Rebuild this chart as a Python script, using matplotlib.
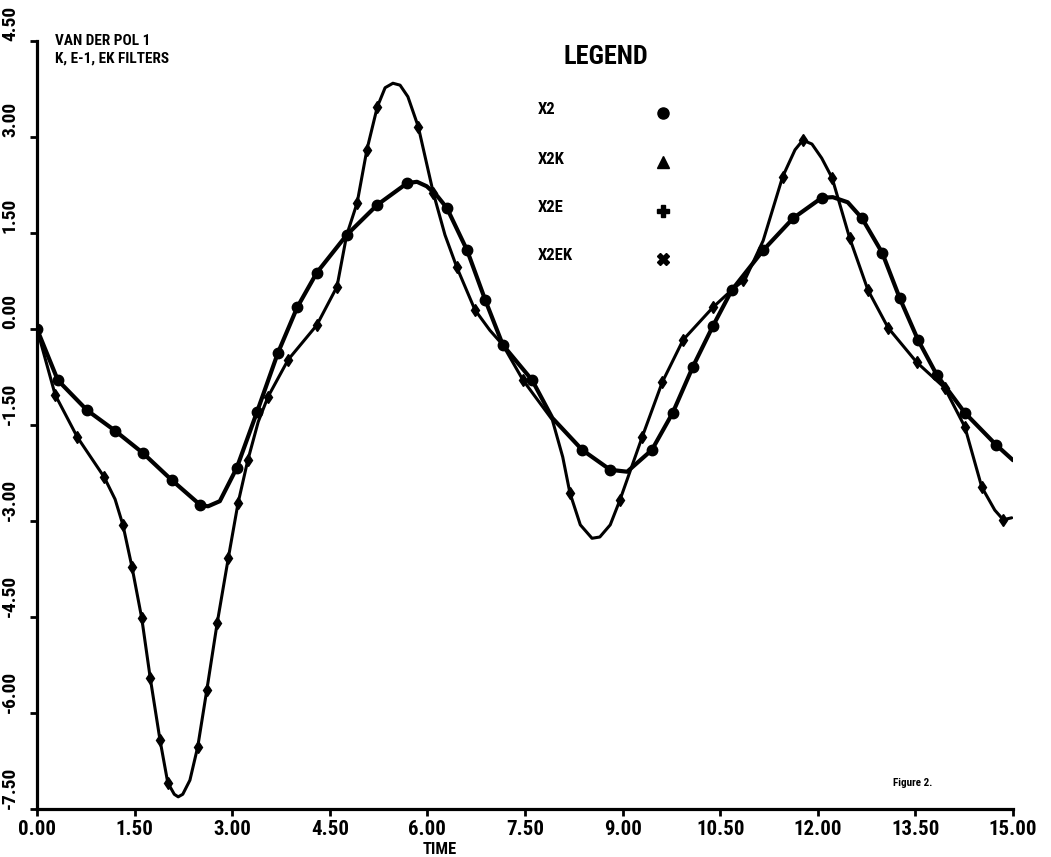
import matplotlib
matplotlib.use("Agg")
import matplotlib.pyplot as plt
from matplotlib import font_manager

## Data
# X2 trace (circles), also carries X2E
x2_t = [0.00, 0.32, 0.77, 1.20, 1.63, 2.07, 2.51, 2.63, 2.81, 3.07, 3.38, 3.70,
        4.00, 4.30, 4.76, 5.23, 5.69, 5.84, 5.99, 6.15, 6.30, 6.61, 6.89, 7.16,
        7.61, 7.92, 8.38, 8.81, 9.07, 9.45, 9.77, 10.08, 10.39, 10.68, 11.16,
        11.62, 12.06, 12.23, 12.46, 12.68, 12.99, 13.26, 13.54, 13.83, 14.26,
        14.74, 15.00]
x2_y = [0.00, -0.80, -1.27, -1.59, -1.94, -2.36, -2.75, -2.77, -2.69, -2.17,
        -1.30, -0.38, 0.34, 0.88, 1.47, 1.94, 2.28, 2.30, 2.23, 2.08, 1.89,
        1.23, 0.45, -0.25, -0.80, -1.39, -1.89, -2.20, -2.23, -1.89, -1.31,
        -0.59, 0.05, 0.61, 1.23, 1.73, 2.05, 2.06, 1.98, 1.73, 1.19, 0.48,
        -0.17, -0.72, -1.31, -1.81, -2.05]
x2_mark_t = [0.00, 0.32, 0.77, 1.20, 1.63, 2.07, 2.51, 3.07, 3.38, 3.70, 4.00,
             4.30, 4.76, 5.23, 5.69, 6.30, 6.61, 6.89, 7.16, 7.61, 8.38, 8.81,
             9.45, 9.77, 10.08, 10.39, 10.68, 11.16, 11.62, 12.06, 12.68, 12.99,
             13.26, 13.54, 13.83, 14.26, 14.74]
x2_mark_y = [0.00, -0.80, -1.27, -1.59, -1.94, -2.36, -2.75, -2.17, -1.30, -0.38,
             0.34, 0.88, 1.47, 1.94, 2.28, 1.89, 1.23, 0.45, -0.25, -0.80, -1.89,
             -2.20, -1.89, -1.31, -0.59, 0.05, 0.61, 1.23, 1.73, 2.05, 1.73, 1.19,
             0.48, -0.17, -0.72, -1.31, -1.81]

# X2K trace (triangles), also carries X2EK
x2k_t = [0.00, 0.28, 0.62, 1.03, 1.20, 1.32, 1.46, 1.61, 1.74, 1.89, 2.01, 2.11,
         2.17, 2.24, 2.35, 2.47, 2.61, 2.77, 2.94, 3.09, 3.24, 3.40, 3.55, 3.86,
         4.30, 4.61, 4.76, 4.92, 5.07, 5.23, 5.35, 5.47, 5.58, 5.70, 5.86, 6.09,
         6.27, 6.45, 6.73, 6.96, 7.16, 7.47, 7.92, 8.08, 8.19, 8.35, 8.53, 8.65,
         8.81, 8.96, 9.30, 9.61, 9.93, 10.39, 10.70, 10.88, 11.16, 11.46, 11.65,
         11.77, 11.91, 12.06, 12.22, 12.49, 12.77, 13.08, 13.52, 13.95, 14.26,
         14.52, 14.72, 14.85, 14.98]
x2k_y = [0.00, -1.03, -1.69, -2.31, -2.66, -3.06, -3.72, -4.52, -5.45, -6.42,
         -7.09, -7.27, -7.31, -7.27, -7.05, -6.53, -5.64, -4.59, -3.58, -2.72,
         -2.05, -1.45, -1.06, -0.48, 0.06, 0.66, 1.47, 1.97, 2.80, 3.47, 3.77,
         3.84, 3.81, 3.63, 3.16, 2.13, 1.47, 0.97, 0.30, -0.02, -0.25, -0.80,
         -1.42, -2.00, -2.56, -3.06, -3.27, -3.25, -3.06, -2.67, -1.69, -0.83,
         -0.17, 0.34, 0.63, 0.77, 1.38, 2.38, 2.80, 2.95, 2.89, 2.67, 2.36,
         1.42, 0.61, 0.02, -0.52, -0.92, -1.53, -2.47, -2.83, -2.98, -2.95]
x2k_mark_t = [0.28, 0.61, 1.03, 1.32, 1.46, 1.61, 1.74, 1.89, 2.01, 2.47, 2.61,
              2.77, 2.94, 3.09, 3.24, 3.55, 3.86, 4.30, 4.61, 4.92, 5.07, 5.23,
              5.86, 6.09, 6.45, 6.73, 7.47, 8.19, 8.96, 9.30, 9.61, 9.93, 10.39,
              10.85, 11.46, 11.77, 12.22, 12.49, 12.77, 13.08, 13.52, 13.95,
              14.26, 14.52, 14.85]
x2k_mark_y = [-1.03, -1.69, -2.31, -3.06, -3.72, -4.52, -5.45, -6.42, -7.09,
              -6.53, -5.64, -4.59, -3.58, -2.72, -2.05, -1.06, -0.48, 0.06, 0.66,
              1.97, 2.80, 3.47, 3.16, 2.13, 0.97, 0.30, -0.80, -2.56, -2.67,
              -1.69, -0.83, -0.17, 0.34, 0.77, 2.38, 2.95, 2.36, 1.42, 0.61, 0.02,
              -0.52, -0.92, -1.53, -2.47, -2.98]

x_ticks = [0.0, 1.5, 3.0, 4.5, 6.0, 7.5, 9.0, 10.5, 12.0, 13.5, 15.0]
x_tick_labels = ['0.00', '1.50', '3.00', '4.50', '6.00', '7.50', '9.00',
                 '10.50', '12.00', '13.50', '15.00']
y_ticks = [-7.5, -6.0, -4.5, -3.0, -1.5, 0.0, 1.5, 3.0, 4.5]
y_tick_labels = ['-7.50', '-6.00', '-4.50', '-3.00', '-1.50', '0.00', '1.50',
                 '3.00', '4.50']

legend_names = ['X2', 'X2K', 'X2E', 'X2EK']
legend_symbols = ['o', '^', 'P', 'X']

## pick a narrow face if one is around, else shrink the wide one
installed = {f.name for f in font_manager.fontManager.ttflist}
narrow = None
for cand in ['Liberation Sans Narrow', 'Roboto Condensed', 'Open Sans Condensed',
             'DejaVu Sans Condensed']:
    if cand in installed:
        narrow = cand
        break
if narrow:
    plt.rcParams['font.family'] = [narrow, 'DejaVu Sans']
    fs_x, fs_y, fs_time, fs_leg, fs_head, fs_big = 15, 14, 12, 12, 11, 19
else:
    plt.rcParams['font.family'] = ['DejaVu Sans']
    fs_x, fs_y, fs_time, fs_leg, fs_head, fs_big = 11, 10, 10, 9, 9, 15

W, H = 1051, 857
fig = plt.figure(figsize=(W / 100, H / 100), dpi=100)
ax = fig.add_axes([37 / W, 1 - 809 / H, (1013 - 37) / W, (809 - 41) / H])

ax.plot(x2_t, x2_y, color='black', lw=3.0, solid_capstyle='round')
ax.plot(x2_mark_t, x2_mark_y, ls='none', marker='o', ms=7.5, color='black')
ax.plot(x2k_t, x2k_y, color='black', lw=2.2, solid_capstyle='round')
ax.plot(x2k_mark_t, x2k_mark_y, ls='none', marker='d', ms=6, color='black')

ax.set_xlim(0, 15)
ax.set_ylim(-7.5, 4.5)
ax.set_xticks(x_ticks)
ax.set_xticklabels(x_tick_labels, fontsize=fs_x, fontweight='bold')
ax.set_yticks(y_ticks)
ax.set_yticklabels(y_tick_labels, fontsize=fs_y, fontweight='bold',
                   rotation=90, va='bottom')
ax.tick_params(axis='x', direction='out', length=5, width=2, pad=3)
ax.tick_params(axis='y', direction='out', length=5, width=2, pad=8)
for s in ['top', 'right']:
    ax.spines[s].set_visible(False)
for s in ['left', 'bottom']:
    ax.spines[s].set_linewidth(2.3)
ax.patch.set_alpha(0)

# header text
fig.text(55 / W, 1 - 34 / H, 'VAN DER POL 1', fontsize=fs_head, fontweight='bold',
         va='top', ha='left')
fig.text(55 / W, 1 - 52 / H, 'K, E-1, EK FILTERS', fontsize=fs_head,
         fontweight='bold', va='top', ha='left')

# legend block
fig.text(606 / W, 1 - 57 / H, 'LEGEND', fontsize=fs_big, fontweight='bold',
         ha='center', va='center')
row_y = [110, 159, 208, 256]
for name, sym, ry in zip(legend_names, legend_symbols, row_y):
    fig.text(538 / W, 1 - ry / H, name, fontsize=fs_leg, fontweight='bold',
             ha='left', va='center')
    ax.plot([(663 - 37) / 976], [(809 - ry - 3) / 768], marker=sym, ms=8,
            color='black', ls='none', transform=ax.transAxes, clip_on=False)

fig.text(913 / W, 1 - 783 / H, 'Figure 2.', fontsize=8, fontweight='bold',
         ha='center', va='center')
fig.text(440 / W, 1 - 849 / H, 'TIME', fontsize=fs_time, fontweight='bold',
         ha='center', va='center')

fig.savefig('out.png', dpi=100, facecolor='white')
